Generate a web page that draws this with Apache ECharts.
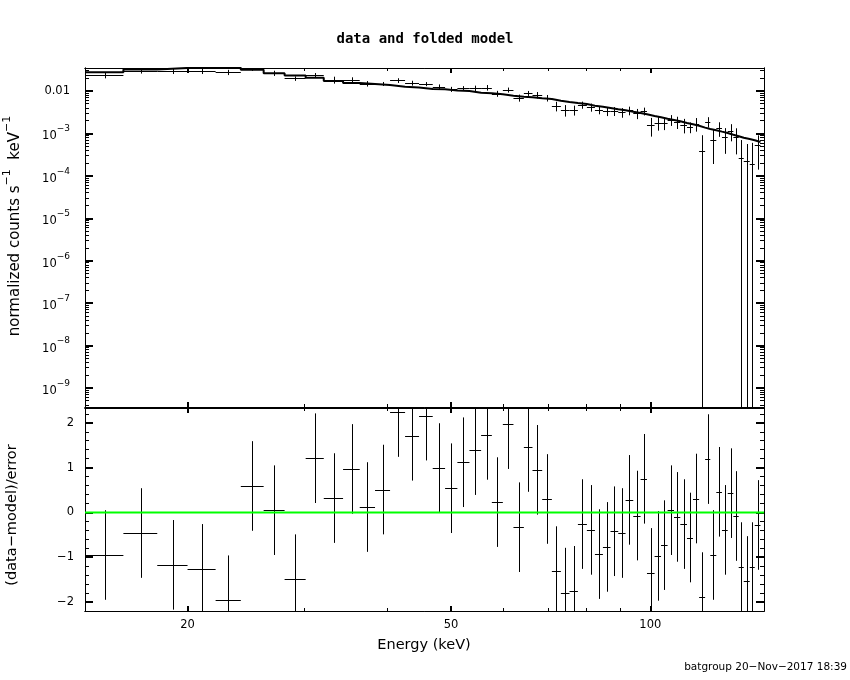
<!DOCTYPE html>
<html><head><meta charset="utf-8">
<script src="https://cdn.jsdelivr.net/npm/echarts@6/dist/echarts.min.js"></script>
<style>html,body{margin:0;padding:0;background:#fff}#c{width:850px;height:680px}</style>
</head><body><div id="c"></div>
<script>
// ---- data ----
const energyEdges = [14.0, 16.0, 18.0, 20.0, 22.05, 24.07, 26.06, 28.03, 30.16, 32.12, 34.35, 36.40, 38.39, 40.45, 42.62, 44.74, 46.92, 48.98, 51.12, 53.31, 55.52, 57.63, 59.88, 62.13, 64.42, 66.38, 68.66, 71.01, 73.27, 75.50, 77.74, 80.21, 82.48, 84.81, 87.08, 89.45, 91.75, 94.25, 96.67, 98.85, 101.5, 103.8, 106.2, 108.6, 111.0, 113.6, 116.0, 118.5, 121.0, 123.2, 125.8, 128.3, 130.9, 133.5, 136.0, 138.4, 141.3, 143.8, 146.7];
const rateData = [0.0238, 0.0301, 0.0296, 0.0296, 0.0276, 0.0342, 0.0263, 0.0197, 0.0238, 0.0183, 0.0182, 0.0149, 0.0147, 0.0177, 0.0154, 0.0146, 0.0126, 0.0110, 0.0116, 0.0116, 0.0120, 0.00868, 0.0106, 0.00691, 0.00883, 0.00805, 0.00684, 0.00443, 0.00357, 0.00357, 0.00471, 0.00415, 0.00357, 0.00336, 0.00337, 0.00314, 0.00347, 0.00297, 0.00335, 0.00158, 0.00179, 0.00179, 0.00210, 0.00187, 0.00160, 0.00141, 0.00170, 0.000392, 0.00189, 0.00070, 0.00133, 0.00083, 0.00115, 0.00082, 0.000259, 0.000228, 0.000190, 0.00052];
const rateErr = [0.00395, 0.0044, 0.0045, 0.0045, 0.0039, 0.0045, 0.0037, 0.0024, 0.0027, 0.0034, 0.0028, 0.0022, 0.0016, 0.00226, 0.00203, 0.00161, 0.00167, 0.0015, 0.0014, 0.00176, 0.00181, 0.0014, 0.00143, 0.0013, 0.00118, 0.00139, 0.0012, 0.00113, 0.00108, 0.00094, 0.0009, 0.0009, 0.00075, 0.0008, 0.0008, 0.0008, 0.0008, 0.0008, 0.0007, 0.00074, 0.00063, 0.000595, 0.0006, 0.0006, 0.0006, 0.0004, 0.0006, 0.000514, 0.00052, 0.00051, 0.0005, 0.0005, 0.0005, 0.0005, 0.000438, 0.000334, 0.000409, 0.00038];
const modelRate = [0.0276, 0.0321, 0.0349, 0.0353, 0.0352, 0.0315, 0.0261, 0.0232, 0.0206, 0.0172, 0.0154, 0.0146, 0.0138, 0.0126, 0.0120, 0.0112, 0.0110, 0.0102, 0.0100, 0.00912, 0.00883, 0.00836, 0.00775, 0.00734, 0.00710, 0.00673, 0.00648, 0.00591, 0.00551, 0.00521, 0.00494, 0.00450, 0.00427, 0.00398, 0.00370, 0.00351, 0.00325, 0.00303, 0.00282, 0.00258, 0.00240, 0.00222, 0.00207, 0.00193, 0.00176, 0.00164, 0.00152, 0.00137, 0.00127, 0.00119, 0.00110, 0.00102, 0.00093, 0.00086, 0.00079, 0.00074, 0.00069, 0.00063];
const residuals = [-0.95, -0.46, -1.17, -1.26, -1.96, 0.59, 0.05, -1.49, 1.21, 0.32, 0.97, 0.12, 0.51, 2.24, 1.71, 2.16, 0.99, 0.54, 1.12, 1.39, 1.73, 0.23, 1.97, -0.33, 1.46, 0.95, 0.30, -1.31, -1.79, -1.75, -0.26, -0.39, -0.93, -0.77, -0.42, -0.46, 0.28, -0.07, 0.75, -1.35, -0.97, -0.73, 0.05, -0.10, -0.26, -0.56, 0.31, -1.89, 1.19, -0.95, 0.46, -0.39, 0.43, -0.08, -1.22, -1.53, -1.22, -0.28];
const residErr = [1,1,1,1,1,1,1,1,1,1,1,1,1,1,1,1,1,1,1,1,1,1,1,1,1,1,1,1,1,1,1,1,1,1,1,1,1,1,1,1,1,1,1,1,1,1,1,1,1,1,1,1,1,1,1,1,1,1];

// ---- axis ticks / labels ----
const xTicksMajor = [20, 50, 100];
const xTicksMinor = [30, 40, 60, 70, 80, 90];
const yTopMajor = [1e-9, 1e-8, 1e-7, 1e-6, 1e-5, 1e-4, 1e-3, 1e-2];
const yResMajor = [-2, -1, 0, 1, 2];

const X_MIN = 14, X_MAX = 148.5;
const Y_TOP_MIN = 3.56e-10, Y_TOP_MAX = 0.0348;
const Y_RES_MIN = -2.2, Y_RES_MAX = 2.33;

const yTopMinor = [];
for (let e = -10; e <= -2; e++) for (let k = 2; k <= 9; k++) {
  const v = k * Math.pow(10, e);
  if (v >= Y_TOP_MIN && v <= Y_TOP_MAX) yTopMinor.push(v);
}
const yResMinor = [];
for (let v = -22; v <= 22; v += 2) yResMinor.push(v / 10);

const FONT = 'DejaVu Sans';
const MINUS = '\u2212';

// ---- series data built from arrays ----
const modelLine = [];
const crossTop = [];
const crossRes = [];
for (let i = 0; i < rateData.length; i++) {
  const lo = energyEdges[i], hi = energyEdges[i + 1], c = (lo + hi) / 2;
  modelLine.push([lo, modelRate[i]], [hi, modelRate[i]]);
  crossTop.push([lo, hi, c, rateData[i], rateErr[i]]);
  crossRes.push([lo, hi, c, residuals[i], residErr[i]]);
}

function makeRender(isLog) {
  return function (params, api) {
    const lo = api.value(0), hi = api.value(1), c = api.value(2), y = api.value(3), e = api.value(4);
    const cs = params.coordSys;
    const top = cs.y, bot = cs.y + cs.height, left = cs.x, right = cs.x + cs.width;
    const clampY = v => Math.max(top, Math.min(bot, v));
    const clampX = v => Math.max(left, Math.min(right, v));
    const py = api.coord([c, y])[1];
    const xL = clampX(api.coord([lo, y])[0]);
    const xR = clampX(api.coord([hi, y])[0]);
    const xc = Math.round(api.coord([c, y])[0]) + 0.5;
    const yT = clampY(api.coord([c, y + e])[1]);
    const lower = y - e;
    const yB = (isLog && lower <= 0) ? bot : clampY(api.coord([c, lower])[1]);
    const children = [{
      type: 'line', shape: { x1: xc, y1: yT, x2: xc, y2: yB },
      style: { stroke: '#000', lineWidth: 1 }
    }];
    if (py >= top && py <= bot) {
      const hy = Math.round(py) + 0.5;
      children.push({
        type: 'line', shape: { x1: xL, y1: hy, x2: xR, y2: hy },
        style: { stroke: '#000', lineWidth: 1 }
      });
    }
    return { type: 'group', children };
  };
}

function tick(values, len, w) {
  return { show: true, inside: true, length: len, customValues: values, lineStyle: { color: '#000', width: w } };
}
const noLabel = { show: false };
function lineOn() { return { show: true, onZero: false, lineStyle: { color: '#000', width: 1 } }; }

function xAxisDef(grid, pos, major, withLabel) {
  return {
    type: 'log', logBase: 10, gridIndex: grid, position: pos, min: X_MIN, max: X_MAX,
    axisLine: lineOn(),
    axisTick: major ? tick(xTicksMajor, 5, 2) : tick(xTicksMinor, 3, 1),
    axisLabel: withLabel ? {
      show: true, customValues: xTicksMajor, margin: 8, color: '#000',
      fontFamily: FONT, fontSize: 11.5, formatter: v => String(Math.round(v))
    } : noLabel,
    splitLine: { show: false }, minorTick: { show: false }
  };
}

const topLabelFmt = v => {
  const ex = Math.round(Math.log10(v));
  if (ex === -2) return '0.01';
  return '{b|10}{s|' + MINUS + (-ex) + '}';
};
function yTopDef(pos, major, withLabel) {
  return {
    type: 'log', logBase: 10, gridIndex: 0, position: pos, min: Y_TOP_MIN, max: Y_TOP_MAX,
    axisLine: lineOn(),
    axisTick: major ? tick(yTopMajor, 8, 2) : tick(yTopMinor, 4, 1),
    axisLabel: withLabel ? {
      show: true, customValues: yTopMajor, margin: 15, color: '#000',
      fontFamily: FONT, fontSize: 11.5, formatter: topLabelFmt,
      rich: {
        b: { fontFamily: FONT, fontSize: 11.5, color: '#000', verticalAlign: 'bottom' },
        s: { fontFamily: FONT, fontSize: 9, color: '#000', verticalAlign: 'top', padding: [0, 0, 9, 0] }
      }
    } : noLabel,
    splitLine: { show: false }
  };
}
function yResDef(pos, major, withLabel) {
  return {
    type: 'value', gridIndex: 1, position: pos, min: Y_RES_MIN, max: Y_RES_MAX,
    axisLine: lineOn(),
    axisTick: major ? tick(yResMajor, 8, 2) : tick(yResMinor, 4, 1),
    axisLabel: withLabel ? {
      show: true, customValues: yResMajor, margin: 11, color: '#000',
      fontFamily: FONT, fontSize: 11.5,
      formatter: v => (v < 0 ? MINUS + Math.abs(v) : String(v))
    } : noLabel,
    splitLine: { show: false }
  };
}

// invisible anchor series so every tick-only axis is bound to a series
function anchor(xi, yi, x, y) {
  return {
    type: 'line', xAxisIndex: xi, yAxisIndex: yi, data: [[x, y]],
    symbol: 'none', showSymbol: false, silent: true,
    lineStyle: { opacity: 0 }, z: 0
  };
}

const chart = echarts.init(document.getElementById('c'), null, { renderer: 'canvas' });
chart.setOption({
  animation: false,
  backgroundColor: '#fff',
  grid: [
    { left: 85, top: 68, width: 679, height: 339 },
    { left: 85, top: 408, width: 679, height: 203 }
  ],
  xAxis: [
    xAxisDef(0, 'bottom', true, false),
    xAxisDef(0, 'bottom', false, false),
    xAxisDef(0, 'top', true, false),
    xAxisDef(0, 'top', false, false),
    xAxisDef(1, 'bottom', true, true),
    xAxisDef(1, 'bottom', false, false),
    xAxisDef(1, 'top', true, false),
    xAxisDef(1, 'top', false, false)
  ],
  yAxis: [
    yTopDef('left', true, true),
    yTopDef('left', false, false),
    yTopDef('right', true, false),
    yTopDef('right', false, false),
    yResDef('left', true, true),
    yResDef('left', false, false),
    yResDef('right', true, false),
    yResDef('right', false, false)
  ],
  series: [
    {
      name: 'model', type: 'line', xAxisIndex: 0, yAxisIndex: 0, data: modelLine,
      symbol: 'none', clip: true, lineStyle: { color: '#000', width: 2 }, z: 3
    },
    {
      name: 'data', type: 'custom', xAxisIndex: 0, yAxisIndex: 0, data: crossTop,
      dimensions: ['lo', 'hi', 'c', 'y', 'e'], encode: { x: [0, 1, 2], y: 3 },
      renderItem: makeRender(true), clip: true, z: 2
    },
    {
      name: 'residuals', type: 'custom', xAxisIndex: 4, yAxisIndex: 4, data: crossRes,
      dimensions: ['lo', 'hi', 'c', 'y', 'e'], encode: { x: [0, 1, 2], y: 3 },
      renderItem: makeRender(false), clip: true, z: 2
    },
    {
      name: 'zero', type: 'line', xAxisIndex: 4, yAxisIndex: 4,
      data: [[X_MIN, 0], [X_MAX, 0]], symbol: 'none',
      lineStyle: { color: '#00ff00', width: 2 }, z: 4
    },
    anchor(1, 1, 20, 1e-3), anchor(2, 2, 20, 1e-3), anchor(3, 3, 20, 1e-3),
    anchor(5, 5, 20, 0), anchor(6, 6, 20, 0), anchor(7, 7, 20, 0)
  ],
  graphic: [
    {
      type: 'text', x: 425, y: 39,
      style: { text: 'data and folded model', font: 'bold 14px "DejaVu Sans Mono"', fill: '#000',
        textAlign: 'center', textVerticalAlign: 'middle', align: 'center', verticalAlign: 'middle' }
    },
    {
      type: 'text', x: 12, y: 226, rotation: Math.PI / 2,
      style: {
        text: '{b|normalized counts s}{s|' + MINUS + '1}{b|  keV}{s|' + MINUS + '1}',
        font: '15px "DejaVu Sans"', fill: '#000',
        textAlign: 'center', textVerticalAlign: 'middle', align: 'center', verticalAlign: 'middle',
        rich: {
          b: { fontFamily: FONT, fontSize: 15, fill: '#000', color: '#000', verticalAlign: 'bottom' },
          s: { fontFamily: FONT, fontSize: 11, fill: '#000', color: '#000', verticalAlign: 'top', padding: [0, 0, 10, 0] }
        }
      }
    },
    {
      type: 'text', x: 12, y: 515, rotation: Math.PI / 2,
      style: { text: '(data' + MINUS + 'model)/error', font: '14.5px "DejaVu Sans"', fill: '#000',
        textAlign: 'center', textVerticalAlign: 'middle', align: 'center', verticalAlign: 'middle' }
    },
    {
      type: 'text', x: 424, y: 645,
      style: { text: 'Energy (keV)', font: '14.5px "DejaVu Sans"', fill: '#000',
        textAlign: 'center', textVerticalAlign: 'middle', align: 'center', verticalAlign: 'middle' }
    },
    {
      type: 'text', x: 847, y: 667,
      style: { text: 'batgroup 20' + MINUS + 'Nov' + MINUS + '2017 18:39', font: '10.5px "DejaVu Sans"', fill: '#000',
        textAlign: 'right', textVerticalAlign: 'middle', align: 'right', verticalAlign: 'middle' }
    }
  ]
});
</script>
</body></html>
